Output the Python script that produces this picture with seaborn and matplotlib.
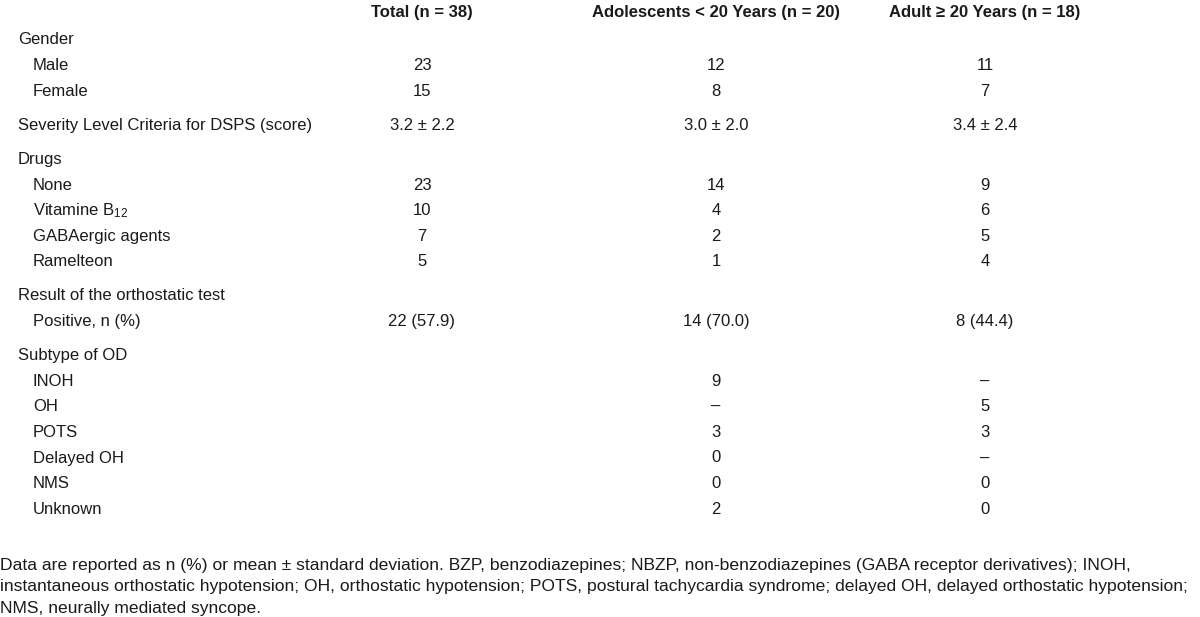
import matplotlib
matplotlib.use("Agg")
import matplotlib.pyplot as plt
import seaborn as sns
import pandas as pd

# Table content
columns = ["Total (n = 38)", "Adolescents < 20 Years (n = 20)", "Adult \u2265 20 Years (n = 18)"]

row_labels = [
    "Gender", "Male", "Female",
    "Severity Level Criteria for DSPS (score)",
    "Drugs", "None", "Vitamine B$_{12}$", "GABAergic agents", "Ramelteon",
    "Result of the orthostatic test", "Positive, n (%)",
    "Subtype of OD", "INOH", "OH", "POTS", "Delayed OH", "NMS", "Unknown",
]
# 0 = group heading, 1 = indented item
row_level = [0, 1, 1, 0, 0, 1, 1, 1, 1, 0, 1, 0, 1, 1, 1, 1, 1, 1]
# group index, used for the small gap between blocks
row_group = [0, 0, 0, 1, 2, 2, 2, 2, 2, 3, 3, 4, 4, 4, 4, 4, 4, 4]

total = ["", "23", "15", "3.2 \u00b1 2.2", "", "23", "10", "7", "5", "", "22 (57.9)",
         "", "", "", "", "", "", ""]
adolescents = ["", "12", "8", "3.0 \u00b1 2.0", "", "14", "4", "2", "1", "", "14 (70.0)",
               "", "9", "\u2013", "3", "0", "0", "2"]
adults = ["", "11", "7", "3.4 \u00b1 2.4", "", "9", "6", "5", "4", "", "8 (44.4)",
          "", "\u2013", "5", "3", "\u2013", "0", "0"]

footnote = ("Data are reported as n (%) or mean \u00b1 standard deviation. BZP, benzodiazepines; "
            "NBZP, non-benzodiazepines (GABA receptor derivatives); INOH,\n"
            "instantaneous orthostatic hypotension; OH, orthostatic hypotension; POTS, postural "
            "tachycardia syndrome; delayed OH, delayed orthostatic hypotension;\n"
            "NMS, neurally mediated syncope.")

df = pd.DataFrame({"label": row_labels, "level": row_level, "group": row_group,
                   columns[0]: total, columns[1]: adolescents, columns[2]: adults})

sns.set_theme(style="white")
fam = ["Liberation Sans", "DejaVu Sans"]
plt.rcParams["font.family"] = fam
plt.rcParams["mathtext.fontset"] = "custom"
plt.rcParams["mathtext.rm"] = "Liberation Sans"
plt.rcParams["mathtext.it"] = "Liberation Sans"

fig = plt.figure(figsize=(12, 6.17), dpi=100)
ax = fig.add_axes([0, 0, 1, 1])
ax.set_xlim(0, 1200)
ax.set_ylim(617, 0)
ax.axis("off")

col_x = [422, 716, 985]
fs = 12
txt = "#1a1a1a"

# header
for cx, name in zip(col_x, columns):
    ax.text(cx, 13, name, ha="center", va="center", fontsize=fs, fontweight="bold", color=txt)

# body rows
y0, step, gap = 40, 25.6, 8.5
for i, r in df.iterrows():
    y = y0 + i * step + r["group"] * gap
    x = 18 if r["level"] == 0 else 33
    ax.text(x, y, r["label"], ha="left", va="center", fontsize=fs, color=txt)
    for cx, c in zip(col_x, columns):
        if r[c]:
            ax.text(cx, y, r[c], ha="center", va="center", fontsize=fs, color=txt)

ax.text(0, 587, footnote, ha="left", va="center", fontsize=12.6, color=txt, linespacing=1.55)

fig.savefig("out.png", dpi=100, facecolor="white")
